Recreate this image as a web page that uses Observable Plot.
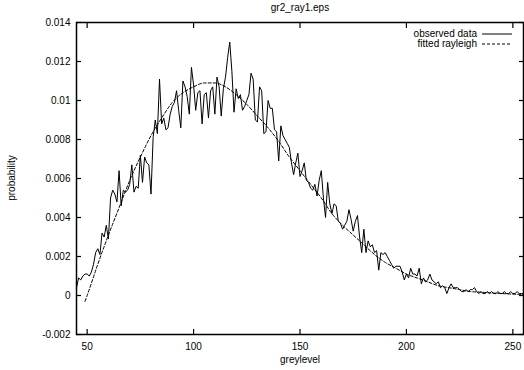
<!DOCTYPE html>
<html><head><meta charset="utf-8">
<script src="https://cdn.jsdelivr.net/npm/d3@7"></script>
<script src="https://cdn.jsdelivr.net/npm/@observablehq/plot@0.6"></script>
<style>
body{margin:0;background:#fff;}
#wrap{position:relative;width:524px;height:370px;font-family:"Liberation Sans",Arial,sans-serif;font-size:10px;color:#000;overflow:hidden;}
.lab{position:absolute;white-space:nowrap;line-height:10px;font-size:10px;}
</style></head><body>
<div id="wrap"></div>
<script>
const chartTitle = "gr2_ray1.eps";
const xLabel = "greylevel";
const yLabel = "probability";
const seriesNames = ["observed data", "fitted rayleigh"];

const xTicks = [50, 100, 150, 200, 250];
const yTicks = [-0.002, 0, 0.002, 0.004, 0.006, 0.008, 0.01, 0.012, 0.014];
const yTickLabels = ["-0.002", "0", "0.002", "0.004", "0.006", "0.008", "0.01", "0.012", "0.014"];

// observed data: one value per greylevel, starting at greylevel 45
const observedStart = 45;
const observedValues = [
  0.0004,0.0009,0.0008,0.0010,0.0011,0.0011,0.0010,0.0012,0.0016,0.0022,
  0.0024,0.0021,0.0032,0.0030,0.0036,0.0029,0.0050,0.0054,0.0052,0.0048,
  0.0064,0.0046,0.0054,0.0053,0.0054,0.0057,0.0067,0.0053,0.0056,0.0055,
  0.0072,0.0058,0.0071,0.0068,0.0067,0.0052,0.0081,0.0090,0.0083,0.0111,
  0.0088,0.0091,0.0085,0.0086,0.0093,0.0097,0.0099,0.0105,0.0095,0.0086,
  0.0110,0.0107,0.0102,0.0093,0.0117,0.0108,0.0095,0.0104,0.0105,0.0088,
  0.0103,0.0104,0.0091,0.0105,0.0107,0.0093,0.0112,0.0107,0.0092,0.0106,
  0.0112,0.0122,0.0130,0.0115,0.0094,0.0106,0.0101,0.0103,0.0095,0.0097,
  0.0100,0.0103,0.0114,0.0111,0.0090,0.0089,0.0107,0.0105,0.0083,0.0084,
  0.0100,0.0096,0.0096,0.0085,0.0084,0.0069,0.0087,0.0082,0.0080,0.0078,
  0.0076,0.0068,0.0062,0.0068,0.0073,0.0061,0.0064,0.0068,0.0059,0.0058,
  0.0055,0.0054,0.0057,0.0051,0.0059,0.0064,0.0050,0.0040,0.0058,0.0047,
  0.0042,0.0047,0.0046,0.0038,0.0037,0.0034,0.0036,0.0038,0.0044,0.0039,
  0.0033,0.0038,0.0041,0.0030,0.0022,0.0034,0.0022,0.0028,0.0025,0.0026,
  0.0022,0.0023,0.0013,0.0022,0.0021,0.0022,0.0020,0.0018,0.0016,0.0014,
  0.0015,0.0015,0.0015,0.0012,0.0008,0.0011,0.0009,0.0014,0.0011,0.0011,
  0.0010,0.0014,0.0006,0.0009,0.0007,0.0008,0.0011,0.0008,0.0007,0.0006,
  0.0007,0.0004,0.0005,0.0004,0.0001,0.0004,0.0006,0.0004,0.0004,0.0004,
  0.0003,0.0002,0.0002,0.0003,0.0002,0.0003,0.0003,0.0004,0.0002,0.0001,
  0.0002,0.0001,0.0001,0.0002,0.0001,0.0002,0.0001,0.0001,0.0002,0.0001,
  0.0001,0.0002,0.0001,0.0001,0.0002,0.0001,0.0001,0.0002,0.0001,0.0001,
  0.0001
];

// fitted rayleigh curve
const fitX = [49,50,55,60,65,70,75,80,85,90,95,100,105,110,115,120,125,130,135,140,145,150,155,160,165,170,175,180,185,190,195,200,205,210,215,220,225,230,235,240,245,250,255];
const fitY = [-0.0003,0.0000,0.0016,0.0031,0.0045,0.0059,0.0071,0.0082,0.0091,0.0099,0.0104,0.0107,0.0109,0.0109,0.0107,0.0103,0.0098,0.0092,0.0086,0.0079,0.0071,0.0064,0.0057,0.0050,0.0042,0.0036,0.0031,0.0026,0.0021,0.0017,0.0014,0.0011,0.0009,0.0007,0.0005,0.0004,0.0003,0.0002,0.00017,0.00013,0.0001,0.00007,0.00005];

const observed = observedValues.map((v, i) => ({g: observedStart + i, p: v}));
const fitted = fitX.map((g, i) => ({g, p: fitY[i]}));

const font = '"Liberation Sans", Arial, sans-serif';
const yFmt = d => yTickLabels[yTicks.indexOf(d)];

const plot = Plot.plot({
  width: 524,
  height: 370,
  marginLeft: 76,
  marginRight: 1,
  marginTop: 22,
  marginBottom: 36,
  style: {fontFamily: font, fontSize: "10px", color: "#000", background: "transparent", overflow: "visible"},
  x: {domain: [45, 255]},
  y: {domain: [-0.002, 0.014]},
  marks: [
    Plot.axisX(xTicks, {anchor: "bottom", tickSize: 0, tickPadding: 8, label: null, tickFormat: d => String(d)}),
    Plot.axisX(xTicks, {anchor: "bottom", tickSize: -5, tickFormat: () => "", label: null, strokeWidth: 1.2}),
    Plot.axisX(xTicks, {anchor: "top", tickSize: -5, tickFormat: () => "", label: null, strokeWidth: 1.2}),
    Plot.axisY(yTicks, {anchor: "left", tickSize: 0, tickPadding: 6, label: null, tickFormat: yFmt}),
    Plot.axisY(yTicks, {anchor: "left", tickSize: -5, tickFormat: () => "", label: null, strokeWidth: 1.2}),
    Plot.axisY(yTicks, {anchor: "right", tickSize: -5, tickFormat: () => "", label: null, strokeWidth: 1.2}),
    Plot.line(fitted, {x: "g", y: "p", stroke: "#000", strokeWidth: 1, strokeDasharray: "3,2", curve: "monotone-x"}),
    Plot.line(observed, {x: "g", y: "p", stroke: "#000", strokeWidth: 1}),
    Plot.frame({stroke: "#000", strokeWidth: 1.5})
  ]
});

const wrap = document.getElementById("wrap");
wrap.appendChild(plot);
plot.style.position = "absolute";
plot.style.left = "0px";
plot.style.top = "0px";

function addLabel(text, css) {
  const d = document.createElement("div");
  d.className = "lab";
  d.textContent = text;
  Object.assign(d.style, css);
  wrap.appendChild(d);
  return d;
}
addLabel(chartTitle, {left: "300px", top: "3px", transform: "translateX(-50%)"});
addLabel(xLabel, {left: "300px", top: "355px", transform: "translateX(-50%)"});
addLabel(yLabel, {left: "12px", top: "178px", transform: "translate(-50%,-50%) rotate(-90deg)"});

// legend
const legendSamples = ["", "3,2"];
seriesNames.forEach((name, i) => {
  const row = document.createElement("div");
  row.className = "lab";
  Object.assign(row.style, {right: "12px", top: (29 + i * 10) + "px", display: "flex", alignItems: "center"});
  const t = document.createElement("span");
  t.textContent = name;
  row.appendChild(t);
  const svgNS = "http://www.w3.org/2000/svg";
  const s = document.createElementNS(svgNS, "svg");
  s.setAttribute("width", "30");
  s.setAttribute("height", "10");
  s.style.marginLeft = "5px";
  const l = document.createElementNS(svgNS, "line");
  l.setAttribute("x1", "0"); l.setAttribute("x2", "30");
  l.setAttribute("y1", "5"); l.setAttribute("y2", "5");
  l.setAttribute("stroke", "#000");
  l.setAttribute("stroke-width", "1");
  if (legendSamples[i]) l.setAttribute("stroke-dasharray", legendSamples[i]);
  s.appendChild(l);
  row.appendChild(s);
  wrap.appendChild(row);
});
</script>
</body></html>
